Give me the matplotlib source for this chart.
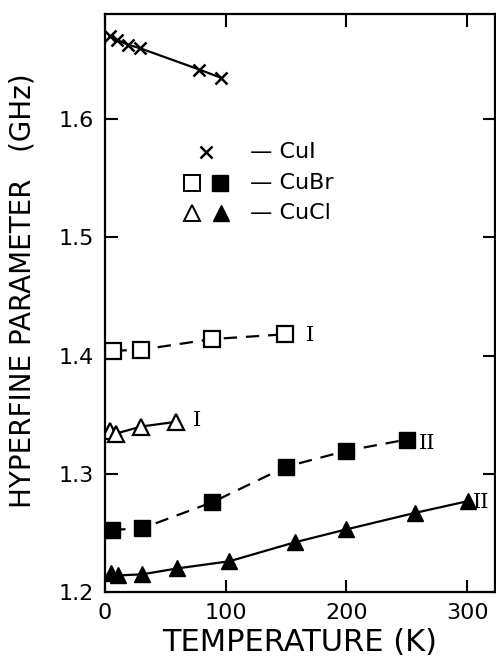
import numpy as np
import matplotlib
matplotlib.use("Agg")
import matplotlib.pyplot as plt

plt.rcParams['font.family'] = ['DejaVu Sans']

# CuI (crosses)
cui_T = [4, 10, 19, 29, 78, 96]
cui_A = [1.670, 1.667, 1.663, 1.660, 1.642, 1.635]
# CuBr phase I (open squares)
cubr1_T = [7, 30, 89, 149]
cubr1_A = [1.404, 1.405, 1.414, 1.418]
# CuCl phase I (open triangles)
cucl1_T = [4, 9, 30, 59]
cucl1_A = [1.336, 1.334, 1.340, 1.344]
# CuBr phase II (filled squares)
cubr2_T = [6, 31, 89, 150, 200, 250]
cubr2_A = [1.2525, 1.254, 1.276, 1.306, 1.3195, 1.329]
# CuCl phase II (filled triangles)
cucl2_T = [5, 11, 31, 60, 103, 157, 200, 257, 301]
cucl2_A = [1.216, 1.214, 1.215, 1.220, 1.226, 1.242, 1.253, 1.267, 1.277]

fig = plt.figure(figsize=(4.96, 6.64), dpi=100)
ax = fig.add_axes([0.2117, 0.1084, 0.7863, 0.8706])

lw = 1.6
ax.plot(cui_T, cui_A, color='k', lw=lw, marker='x', ms=8, mew=1.8)
ax.plot(cubr1_T, cubr1_A, color='k', lw=lw, ls=(0, (6, 4)), marker='s', ms=12,
        mfc='white', mec='k', mew=1.6)
ax.plot(cucl1_T, cucl1_A, color='k', lw=lw, marker='^', ms=11,
        mfc='white', mec='k', mew=1.6)
ax.plot(cubr2_T, cubr2_A, color='k', lw=lw, ls=(0, (6, 4)), marker='s', ms=12,
        mfc='k', mec='k')
ax.plot(cucl2_T, cucl2_A, color='k', lw=lw, marker='^', ms=12,
        mfc='k', mec='k')

# phase labels
roman = dict(family='DejaVu Serif', fontsize=15, va='center', ha='left')
ax.text(166, 1.417, 'I', **roman)
ax.text(73, 1.345, 'I', **roman)
ax.text(260, 1.326, 'II', **roman)
ax.text(305, 1.276, 'II', **roman)

# legend drawn by hand
ax.plot([84], [1.572], ls='none', marker='x', ms=8, mew=1.8, color='k')
ax.plot([72], [1.546], ls='none', marker='s', ms=11, mfc='white', mec='k', mew=1.4)
ax.plot([95], [1.546], ls='none', marker='s', ms=11, mfc='k', mec='k')
ax.plot([72], [1.521], ls='none', marker='^', ms=11, mfc='white', mec='k', mew=1.4)
ax.plot([96], [1.521], ls='none', marker='^', ms=11, mfc='k', mec='k')
ax.text(120, 1.572, '\u2014 CuI', fontsize=16, va='center')
ax.text(120, 1.546, '\u2014 CuBr', fontsize=16, va='center')
ax.text(120, 1.521, '\u2014 CuCl', fontsize=16, va='center')

ax.set_xlim(0, 323)
ax.set_ylim(1.2, 1.689)
ax.set_xticks([0, 100, 200, 300])
ax.set_yticks([1.2, 1.3, 1.4, 1.5, 1.6])
ax.set_yticklabels(['1.2', '1.3', '1.4', '1.5', '1.6'])
ax.tick_params(direction='in', length=9, width=1.5, labelsize=16,
               top=True, right=True, pad=8)
for s in ax.spines.values():
    s.set_linewidth(1.6)

ax.set_xlabel('TEMPERATURE (K)', fontsize=22)
ax.xaxis.set_label_coords(0.5, -0.062)
ax.set_ylabel('HYPERFINE PARAMETER   (GHz)', fontsize=20)
ax.yaxis.set_label_coords(-0.175, 0.522)

fig.savefig('out.png', dpi=100)
